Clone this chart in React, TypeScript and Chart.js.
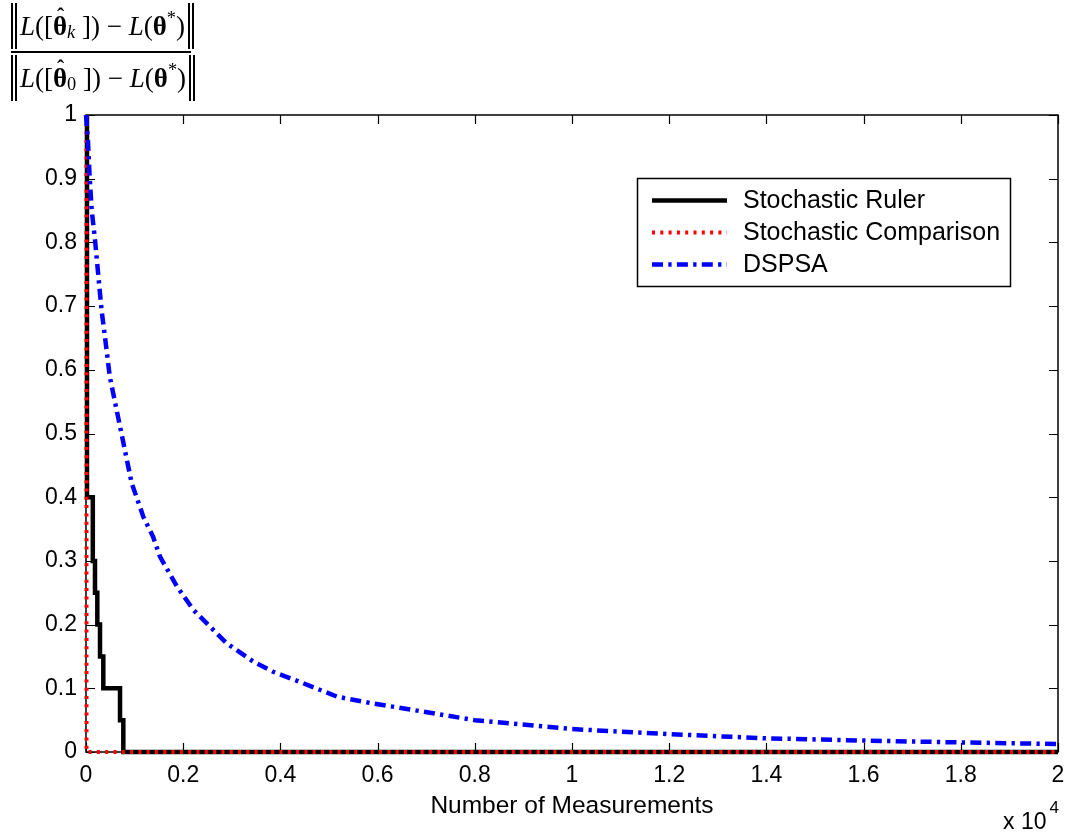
import React, { useEffect, useRef } from 'react';
import { Chart, registerables } from 'chart.js';
Chart.register(...registerables);

// ---- data ----
const rulerX = [20, 20, 140, 140, 185, 185, 233, 233, 288, 288, 356, 356, 700, 700, 768, 768, 20000];
const rulerY = [1, 0.4, 0.4, 0.3, 0.3, 0.25, 0.25, 0.2, 0.2, 0.15, 0.15, 0.1, 0.1, 0.05, 0.05, 0, 0];

const comparisonX = [10, 10, 20000];
const comparisonY = [1, 0, 0];

const dspsaX = [0, 40, 70, 117, 185, 250, 320, 390, 490, 630, 770, 940, 1110, 1180, 1380, 1520, 1870, 2210, 2550, 2890, 3440, 3850, 4470, 5160, 5840, 6730, 8000, 10000, 12000, 14000, 16000, 18000, 20000];
const dspsaY = [1.0, 0.96, 0.91, 0.851, 0.804, 0.751, 0.694, 0.652, 0.589, 0.537, 0.485, 0.422, 0.385, 0.369, 0.338, 0.307, 0.26, 0.223, 0.197, 0.171, 0.142, 0.126, 0.108, 0.087, 0.077, 0.066, 0.05, 0.036, 0.028, 0.0215, 0.018, 0.015, 0.0125];

const seriesNames = ['Stochastic Ruler', 'Stochastic Comparison', 'DSPSA'];

const xTickValues = [0, 2000, 4000, 6000, 8000, 10000, 12000, 14000, 16000, 18000, 20000];
const xTickLabels = ['0', '0.2', '0.4', '0.6', '0.8', '1', '1.2', '1.4', '1.6', '1.8', '2'];
const yTickValues = [0, 0.1, 0.2, 0.3, 0.4, 0.5, 0.6, 0.7, 0.8, 0.9, 1];
const yTickLabels = ['0', '0.1', '0.2', '0.3', '0.4', '0.5', '0.6', '0.7', '0.8', '0.9', '1'];

const xTitle = 'Number of Measurements';
const xExponentBase = 'x 10';
const xExponent = '4';

const SANS = '"Liberation Sans", Arial, sans-serif';

const styles = [
  { color: '#000000', width: 4.5, dash: [] as number[] },
  { color: '#ff0000', width: 4, dash: [3, 5.3] },
  { color: '#0000ff', width: 4.5, dash: [11, 5.3, 3.3, 5.3] },
];

const toPts = (xs: number[], ys: number[]) => xs.map((x, i) => ({ x, y: ys[i] }));

const framePlugin = {
  id: 'frame',
  beforeDatasetsDraw(chart: any) {
    const { ctx, chartArea: a, scales } = chart;
    const xs = scales.x, ys = scales.y;
    ctx.save();
    ctx.strokeStyle = '#000';
    ctx.lineWidth = 1.5;
    ctx.setLineDash([]);
    ctx.strokeRect(a.left, a.top, a.right - a.left, a.bottom - a.top);
    const tl = 9;
    ctx.beginPath();
    xTickValues.forEach((v) => {
      const px = Math.round(xs.getPixelForValue(v)) + 0.5;
      ctx.moveTo(px, a.bottom); ctx.lineTo(px, a.bottom - tl);
      ctx.moveTo(px, a.top); ctx.lineTo(px, a.top + tl);
    });
    yTickValues.forEach((v) => {
      const py = Math.round(ys.getPixelForValue(v)) + 0.5;
      ctx.moveTo(a.left, py); ctx.lineTo(a.left + tl, py);
      ctx.moveTo(a.right, py); ctx.lineTo(a.right - tl, py);
    });
    ctx.lineWidth = 1.2;
    ctx.stroke();
    ctx.restore();
  },
  afterDraw(chart: any) {
    const { ctx, chartArea: a } = chart;
    ctx.save();
    // legend
    const lx = 637, ly = 178, lw = 373, lh = 108;
    ctx.fillStyle = '#fff';
    ctx.fillRect(lx, ly, lw, lh);
    ctx.lineWidth = 1.5;
    ctx.strokeStyle = '#000';
    ctx.setLineDash([]);
    ctx.strokeRect(lx + 0.5, ly + 0.5, lw, lh);
    const rows = [200.5, 232.5, 264.5];
    seriesNames.forEach((name, i) => {
      const st = styles[i];
      ctx.beginPath();
      ctx.strokeStyle = st.color;
      ctx.lineWidth = st.width;
      ctx.lineCap = 'butt';
      ctx.setLineDash(st.dash);
      ctx.moveTo(652, rows[i]);
      ctx.lineTo(727, rows[i]);
      ctx.stroke();
      ctx.setLineDash([]);
      ctx.fillStyle = '#000';
      ctx.font = `25px ${SANS}`;
      ctx.textAlign = 'left';
      ctx.textBaseline = 'middle';
      ctx.fillText(name, 743, rows[i] + 1);
    });

    // x title
    ctx.fillStyle = '#000';
    ctx.font = `24.5px ${SANS}`;
    ctx.textAlign = 'center';
    ctx.textBaseline = 'middle';
    ctx.fillText(xTitle, (a.left + a.right) / 2, 806);

    // exponent
    ctx.font = `23px ${SANS}`;
    ctx.textAlign = 'left';
    ctx.textBaseline = 'alphabetic';
    ctx.fillText(xExponentBase, 1003, 829);
    const w = ctx.measureText(xExponentBase).width;
    ctx.font = `17px ${SANS}`;
    ctx.fillText(xExponent, 1003 + w + 3, 813);
    ctx.restore();
  },
};

function Formula() {
  const bar: React.CSSProperties = {
    borderLeft: '6px double #000',
    borderRight: '6px double #000',
    padding: '0 3px',
    height: 46,
    display: 'flex',
    alignItems: 'center',
    whiteSpace: 'nowrap',
  };
  const sub: React.CSSProperties = { fontSize: '0.68em', position: 'relative', top: '0.35em' };
  const sup: React.CSSProperties = { fontSize: '0.68em', position: 'relative', top: '-0.45em' };
  const theta = (
    <span style={{ position: 'relative', display: 'inline-block' }}>
      <b>θ</b>
      <span style={{ position: 'absolute', left: 4, top: -7, fontSize: '0.8em', fontWeight: 'bold' }}>ˆ</span>
    </span>
  );
  return (
    <div style={{ position: 'absolute', left: 11, top: 3, fontFamily: '"Liberation Serif", "Times New Roman", serif', fontSize: 27, color: '#000', lineHeight: 1 }}>
      <div style={{ display: 'flex', flexDirection: 'column', alignItems: 'flex-start' }}>
        <div style={bar}>
          <i>L</i>([{theta}<i style={sub}>k</i>&nbsp;]) − <i>&nbsp;L</i>(<b>θ</b><span style={sup}>*</span>)
        </div>
        <div style={{ height: 2, background: '#000', width: 180, margin: '2px 0' }} />
        <div style={bar}>
          <i>L</i>([{theta}<span style={sub}>0</span>&nbsp;]) − <i>&nbsp;L</i>(<b>θ</b><span style={sup}>*</span>)
        </div>
      </div>
    </div>
  );
}

export default function App() {
  const ref = useRef<HTMLCanvasElement | null>(null);
  useEffect(() => {
    if (!ref.current) return;
    const common = { borderCapStyle: 'butt', pointRadius: 0, tension: 0, fill: false, clip: false };
    const chart = new Chart(ref.current, {
      type: 'line',
      data: {
        datasets: [
          { ...common, label: seriesNames[0], data: toPts(rulerX, rulerY), borderColor: styles[0].color, borderWidth: styles[0].width, borderDash: styles[0].dash, order: 3 },
          { ...common, label: seriesNames[1], data: toPts(comparisonX, comparisonY), borderColor: styles[1].color, borderWidth: styles[1].width, borderDash: styles[1].dash, order: 2 },
          { ...common, label: seriesNames[2], data: toPts(dspsaX, dspsaY), borderColor: styles[2].color, borderWidth: styles[2].width, borderDash: styles[2].dash, order: 1 },
        ],
      },
      options: {
        responsive: false,
        animation: false,
        devicePixelRatio: 1,
        layout: { padding: { left: 0, right: 17, top: 115, bottom: 0 } },
        plugins: { legend: { display: false }, tooltip: { enabled: false }, title: { display: false } },
        scales: {
          x: {
            type: 'linear',
            min: 0,
            max: 20000,
            afterBuildTicks: (s: any) => { s.ticks = xTickValues.map((v) => ({ value: v })); },
            afterFit: (s: any) => { s.height = 86; },
            grid: { display: false, drawTicks: false },
            border: { display: false },
            ticks: {
              padding: 10,
              color: '#000',
              font: { family: SANS, size: 23 },
              maxRotation: 0,
              autoSkip: false,
              callback: (v: any) => xTickLabels[xTickValues.indexOf(Number(v))],
            },
          },
          y: {
            type: 'linear',
            min: 0,
            max: 1,
            afterBuildTicks: (s: any) => { s.ticks = yTickValues.map((v) => ({ value: v })); },
            afterFit: (s: any) => { s.width = 86; },
            grid: { display: false, drawTicks: false },
            border: { display: false },
            ticks: {
              padding: 9,
              color: '#000',
              font: { family: SANS, size: 23 },
              autoSkip: false,
              callback: (v: any) => yTickLabels[yTickValues.findIndex((t) => Math.abs(t - Number(v)) < 1e-9)],
            },
          },
        },
      },
      plugins: [framePlugin],
    } as any);
    return () => chart.destroy();
  }, []);
  return (
    <div style={{ position: 'fixed', left: 0, top: 0, width: 1075, height: 838, background: '#fff', overflow: 'hidden' }}>
      <canvas ref={ref} width={1075} height={838} style={{ position: 'absolute', left: 0, top: 0, width: 1075, height: 838 }} />
      <Formula />
    </div>
  );
}
